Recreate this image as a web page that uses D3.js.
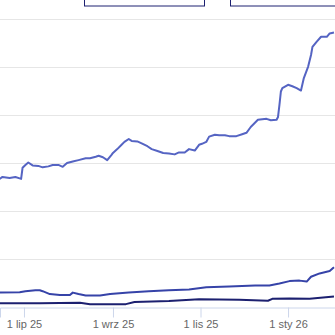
<!DOCTYPE html>
<html>
<head>
<meta charset="utf-8">
<script src="https://cdn.jsdelivr.net/npm/d3@7"></script>
<style>
  html, body { margin: 0; padding: 0; background: #fff; }
  svg { display: block; font-family: "Open Sans", "Noto Sans", sans-serif; }
</style>
</head>
<body>
<svg id="chart" width="335" height="335"></svg>
<script>
// values (units unknown, grid every 100)
const upperDates = ["2025-06-14","2025-06-16","2025-06-21","2025-06-25","2025-06-28","2025-06-29","2025-06-30","2025-07-02","2025-07-04","2025-07-07","2025-07-11","2025-07-14","2025-07-18","2025-07-21","2025-07-25","2025-07-28","2025-07-31","2025-08-04","2025-08-08","2025-08-13","2025-08-16","2025-08-20","2025-08-22","2025-08-25","2025-08-28","2025-08-31","2025-09-01","2025-09-04","2025-09-07","2025-09-09","2025-09-12","2025-09-14","2025-09-18","2025-09-21","2025-09-25","2025-09-28","2025-10-02","2025-10-06","2025-10-10","2025-10-14","2025-10-17","2025-10-21","2025-10-24","2025-10-28","2025-10-31","2025-11-02","2025-11-05","2025-11-07","2025-11-11","2025-11-14","2025-11-18","2025-11-21","2025-11-26","2025-11-30","2025-12-03","2025-12-06","2025-12-11","2025-12-17","2025-12-20","2025-12-24","2025-12-25","2025-12-26","2025-12-27","2025-12-28","2026-01-01","2026-01-04","2026-01-07","2026-01-10","2026-01-12","2026-01-15","2026-01-17","2026-01-18","2026-01-21","2026-01-24","2026-01-28","2026-01-30","2026-02-02"];
const upperValues = [268,272,270,272,269,268,291,297,302,296,295,292,294,297,297,293,301,304,307,311,311,314,316,313,307,318,322,330,339,345,351,347,346,342,336,330,326,322,321,319,323,323,330,327,339,341,345,356,360,359,359,357,357,361,364,376,391,393,390,391,397,422,450,457,464,461,457,452,478,502,526,543,554,564,564,571,573];

const midDates = ["2025-06-14","2025-06-28","2025-07-02","2025-07-09","2025-07-12","2025-07-14","2025-07-19","2025-07-26","2025-08-02","2025-08-04","2025-08-08","2025-08-13","2025-08-23","2025-08-30","2025-09-12","2025-09-26","2025-10-10","2025-10-24","2025-11-05","2025-11-21","2025-12-09","2025-12-19","2025-12-26","2026-01-02","2026-01-09","2026-01-14","2026-01-17","2026-01-23","2026-01-30","2026-02-02"];
const midValues = [31,32,34,36,36,34,28,26,26,31,28,25,25,28,31,34,36,37.5,42,44,46,46,50,55,56,54,64,71,76,84];

const lowDates = ["2025-06-14","2025-07-12","2025-08-09","2025-08-16","2025-08-30","2025-09-10","2025-09-16","2025-10-10","2025-10-31","2025-11-28","2025-12-18","2025-12-21","2026-01-02","2026-01-16","2026-02-02"];
const lowValues = [9,9,10,7,7,7,11.5,13.5,17,16,14,18,19,18,23];

const tickDates = ["2025-07-01","2025-09-01","2025-11-01","2026-01-01"];
const tickLabels = ["1 lip 25","1 wrz 25","1 lis 25","1 sty 26"];
const gridValues = [100,200,300,400,500,600];

const W = 335, H = 335;
const parse = d3.timeParse("%Y-%m-%d");
const svg = d3.select("#chart");

const x = d3.scaleTime()
  .domain([new Date(2025,5,14,7), new Date(2026,1,2,17)])
  .range([0, W]);
const y = d3.scaleLinear().domain([0, 600]).range([307.5, 19.5]);

// grid
svg.append("g").selectAll("line").data(gridValues).enter()
  .append("line")
  .attr("x1", 0).attr("x2", W)
  .attr("y1", d => y(d)).attr("y2", d => y(d))
  .attr("stroke", "#e6e6e6").attr("stroke-width", 1);

// x axis
const ax = svg.append("g").attr("transform", `translate(0,${y(0)})`)
  .call(d3.axisBottom(x)
    .tickValues(tickDates.map(parse))
    .tickFormat((d, i) => tickLabels[i])
    .tickSize(10).tickPadding(3));
ax.select(".domain").attr("stroke", "#ccd6eb");
ax.selectAll(".tick line").attr("stroke", "#ccd6eb");
ax.selectAll(".tick text").attr("fill", "#666").attr("font-size", "11px");

// lines
const line = d3.line().x(d => x(d[0])).y(d => y(d[1]));
const series = [
  {dates: lowDates, values: lowValues, color: "#1c2070"},
  {dates: midDates, values: midValues, color: "#3643a8"},
  {dates: upperDates, values: upperValues, color: "#5564c3"}
];
series.forEach(s => {
  const pts = s.dates.map((d, i) => [parse(d), s.values[i]]);
  svg.append("path").datum(pts)
    .attr("d", line)
    .attr("fill", "none")
    .attr("stroke", s.color)
    .attr("stroke-width", 2)
    .attr("stroke-linejoin", "round");
});

// legend boxes, mostly above the visible area
svg.append("rect").attr("x", 84.5).attr("y", -20).attr("width", 120).attr("height", 26)
  .attr("fill", "#fff").attr("stroke", "#1c2070");
svg.append("rect").attr("x", 230.5).attr("y", -20).attr("width", 130).attr("height", 26)
  .attr("fill", "#fff").attr("stroke", "#1c2070");
</script>
</body>
</html>
